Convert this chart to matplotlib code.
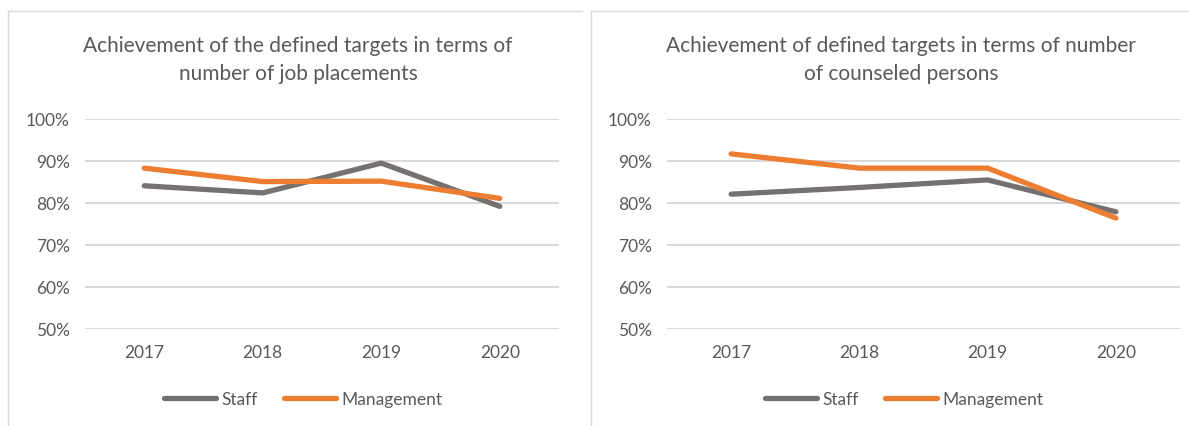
import matplotlib.pyplot as plt
from matplotlib.lines import Line2D
from matplotlib.ticker import PercentFormatter

years = ['2017', '2018', '2019', '2020']

# chart 1: job placements
placements_staff = [84.1, 82.4, 89.5, 79.2]
placements_mgmt = [88.3, 85.1, 85.2, 81.1]

# chart 2: counseled persons
counseled_staff = [82.1, 83.7, 85.5, 77.9]
counseled_mgmt = [91.7, 88.3, 88.3, 76.4]

titles = ['Achievement of the defined targets in terms of\nnumber of job placements',
          'Achievement of defined targets in terms of number\nof counseled persons']

GRAY = '#767171'
ORANGE = '#ED7D31'
GRID = '#D9D9D9'
TEXT = '#595959'

plt.rcParams['font.family'] = ['Lato', 'DejaVu Sans']

W, H = 1189, 427
fig = plt.figure(figsize=(W / 100, H / 100), dpi=100)


def px_box(x0, y0, x1, y1):
    # pixel box (top-left origin) -> figure fraction
    return [x0 / W, (H - y1) / H, (x1 - x0) / W, (y1 - y0) / H]


def fx(x):
    return x / W


def fy(y):
    return (H - y) / H


# panel borders
border = dict(color=GRID, lw=1.0, transform=fig.transFigure)
fig.add_artist(Line2D([fx(8), fx(8)], [fy(12), fy(430)], **border))
fig.add_artist(Line2D([fx(8), fx(582)], [fy(12), fy(12)], **border))
fig.add_artist(Line2D([fx(591), fx(591)], [fy(12), fy(430)], **border))
fig.add_artist(Line2D([fx(591), fx(1192)], [fy(12), fy(12)], **border))

panels = [
    (px_box(85, 120, 559, 330), placements_staff, placements_mgmt, 298, 303),
    (px_box(667, 120, 1180, 330), counseled_staff, counseled_mgmt, 901, 904),
]

for i, (box, staff, mgmt, title_x, legend_x) in enumerate(panels):
    ax = fig.add_axes(box)
    x = range(len(years))
    ax.plot(x, [v / 100 for v in staff], color=GRAY, lw=3.8,
            solid_capstyle='round', solid_joinstyle='round', label='Staff', zorder=3)
    ax.plot(x, [v / 100 for v in mgmt], color=ORANGE, lw=3.8,
            solid_capstyle='round', solid_joinstyle='round', label='Management', zorder=3)

    ax.set_xlim(-0.5, len(years) - 0.5)
    ax.set_ylim(0.5, 1.0)
    ax.set_yticks([0.5, 0.6, 0.7, 0.8, 0.9, 1.0])
    ax.yaxis.set_major_formatter(PercentFormatter(1.0, decimals=0))
    ax.set_xticks(list(x))
    ax.set_xticklabels(years)
    ax.grid(axis='y', color=GRID, lw=1.4)
    ax.set_axisbelow(True)
    for s in ax.spines.values():
        s.set_visible(False)
    ax.tick_params(axis='both', length=0, colors=TEXT, labelsize=12.5)
    ax.tick_params(axis='y', pad=11)
    ax.tick_params(axis='x', pad=11)

    fig.text(fx(title_x), fy(60), titles[i], ha='center', va='center',
             fontsize=15, color=TEXT, linespacing=1.55)

    leg = ax.legend(loc='center', bbox_to_anchor=(fx(legend_x), fy(400)),
                    bbox_transform=fig.transFigure, ncol=2, frameon=False,
                    fontsize=12.5, handlelength=3.0, handletextpad=0.3,
                    columnspacing=1.5, borderaxespad=0)
    for t in leg.get_texts():
        t.set_color(TEXT)

fig.savefig('out.png', dpi=100)
